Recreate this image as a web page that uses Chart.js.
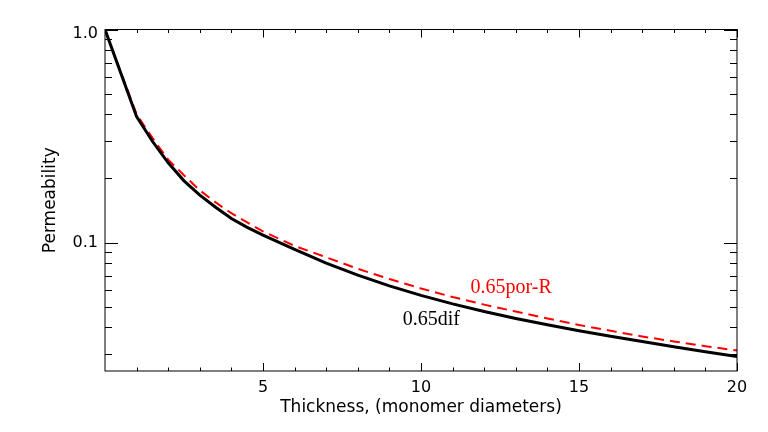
<!DOCTYPE html>
<html>
<head>
<meta charset="utf-8">
<script src="https://cdn.jsdelivr.net/npm/chart.js@4"></script>
<style>
  html, body { margin: 0; padding: 0; background: #fff; }
  #wrap { width: 768px; height: 432px; }
</style>
</head>
<body>
<div id="wrap"><canvas id="permChart" width="768" height="432"></canvas></div>
<script>
// thickness in monomer diameters
const thickness = [0, 1, 1.5, 2, 2.5, 3, 3.5, 4, 4.5, 5, 6, 7, 8, 9, 10, 11, 12, 13, 14, 15, 16, 17, 18, 19, 20];
// 0.65dif (black, solid)
const difValues = [1.0, 0.39, 0.299, 0.237, 0.195, 0.167, 0.1466, 0.1297, 0.118, 0.1084, 0.0929, 0.0802, 0.0704, 0.0627, 0.0566,
                   0.0516, 0.0475, 0.0441, 0.0412, 0.0386, 0.0364, 0.0344, 0.0325, 0.0308, 0.0292];
// 0.65por-R (red, dashed)
const porValues = [1.0, 0.40, 0.31, 0.2453, 0.207, 0.176, 0.1545, 0.1375, 0.1245, 0.1129, 0.0966, 0.0854, 0.0754, 0.0675, 0.0610,
                   0.0556, 0.0512, 0.0475, 0.0441, 0.0411, 0.0386, 0.0363, 0.0344, 0.0327, 0.0312];

const xMajorTicks = [5, 10, 15, 20];
const xMinorTicks = [1, 2, 3, 4, 6, 7, 8, 9, 11, 12, 13, 14, 16, 17, 18, 19];
const yMajorTicks = [0.1, 1.0];
const yMajorLabels = ["0.1", "1.0"];
const yMinorTicks = [0.03, 0.04, 0.05, 0.06, 0.07, 0.08, 0.09, 0.2, 0.3, 0.4, 0.5, 0.6, 0.7, 0.8, 0.9];

const seriesLabels = ["0.65dif", "0.65por-R"];
// where the curve names sit, in data units
const labelSpots = [[9.42, 0.0412], [11.57, 0.0583]];

const axisFont = "16px 'DejaVu Sans'";
const titleFont = "17px 'DejaVu Sans'";

// hand-drawn IDL style frame: inward ticks on all four sides
const framePlugin = {
  id: "frame",
  afterDraw(chart) {
    const ctx = chart.ctx;
    const a = chart.chartArea;
    const xs = chart.scales.x, ys = chart.scales.y;
    ctx.save();
    ctx.strokeStyle = "#000";
    ctx.lineWidth = 1;
    ctx.strokeRect(a.left, a.top, a.right - a.left, a.bottom - a.top);

    ctx.beginPath();
    function xTick(v, len) {
      const px = Math.round(xs.getPixelForValue(v)) + 0.5;
      ctx.moveTo(px, a.bottom); ctx.lineTo(px, a.bottom - len);
      ctx.moveTo(px, a.top); ctx.lineTo(px, a.top + len);
    }
    function yTick(v, len) {
      const py = Math.round(ys.getPixelForValue(v)) + 0.5;
      ctx.moveTo(a.left, py); ctx.lineTo(a.left + len, py);
      ctx.moveTo(a.right, py); ctx.lineTo(a.right - len, py);
    }
    xMajorTicks.forEach(v => xTick(v, 8));
    xMinorTicks.forEach(v => xTick(v, 3.5));
    yMajorTicks.forEach(v => yTick(v, 13));
    yMinorTicks.forEach(v => yTick(v, 7));
    ctx.stroke();

    ctx.fillStyle = "#000";
    ctx.font = axisFont;
    ctx.textAlign = "center";
    ctx.textBaseline = "middle";
    xMajorTicks.forEach(v => ctx.fillText(String(v), xs.getPixelForValue(v), 388));
    ctx.textAlign = "right";
    yMajorTicks.forEach((v, i) => ctx.fillText(yMajorLabels[i], 98, Math.max(ys.getPixelForValue(v), 34)));

    ctx.font = titleFont;
    ctx.textAlign = "center";
    ctx.fillText("Thickness, (monomer diameters)", (a.left + a.right) / 2, 408);
    ctx.save();
    ctx.translate(51, (a.top + a.bottom) / 2);
    ctx.rotate(-Math.PI / 2);
    ctx.fillText("Permeability", 0, 0);
    ctx.restore();

    ctx.font = "20px 'Liberation Serif'";
    ctx.textAlign = "left";
    ctx.textBaseline = "alphabetic";
    const colors = ["#000", "#ff0000"];
    seriesLabels.forEach((t, i) => {
      ctx.fillStyle = colors[i];
      ctx.fillText(t, xs.getPixelForValue(labelSpots[i][0]), ys.getPixelForValue(labelSpots[i][1]));
    });
    ctx.restore();
  }
};

new Chart(document.getElementById("permChart"), {
  type: "line",
  data: {
    datasets: [
      {
        label: seriesLabels[0],
        data: thickness.map((x, i) => ({ x: x, y: difValues[i] })),
        borderColor: "#000",
        borderWidth: 3,
        pointRadius: 0,
        tension: 0
      },
      {
        label: seriesLabels[1],
        data: thickness.map((x, i) => ({ x: x, y: porValues[i] })),
        borderColor: "#ff0000",
        borderWidth: 2,
        borderDash: [10, 6],
        pointRadius: 0,
        tension: 0
      }
    ]
  },
  options: {
    responsive: false,
    animation: false,
    layout: { padding: { left: 105, top: 29.5, right: 31, bottom: 61 } },
    plugins: { legend: { display: false }, tooltip: { enabled: false } },
    scales: {
      x: { type: "linear", min: 0, max: 20, display: false },
      y: { type: "logarithmic", min: 0.025, max: 1.0, display: false }
    }
  },
  plugins: [framePlugin]
});
</script>
</body>
</html>
